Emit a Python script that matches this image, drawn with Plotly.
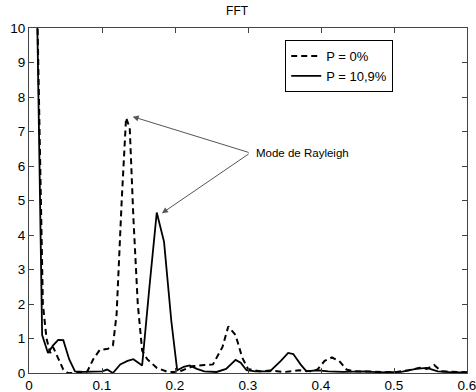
import plotly.graph_objects as go

# Series: P = 0% (dashed)
x_p0 = [0.010, 0.016, 0.019, 0.024, 0.029, 0.033, 0.040, 0.047, 0.053, 0.065, 0.075, 0.080,
        0.088, 0.097, 0.108, 0.115, 0.120, 0.127, 0.133, 0.138, 0.143, 0.149, 0.155, 0.162,
        0.175, 0.190, 0.205, 0.215, 0.225, 0.240, 0.252, 0.265, 0.273, 0.283, 0.292, 0.300,
        0.315, 0.330, 0.350, 0.370, 0.385, 0.395, 0.405, 0.415, 0.425, 0.435, 0.445, 0.470,
        0.500, 0.520, 0.535, 0.545, 0.555, 0.565, 0.580, 0.600]
y_p0 = [12.0, 5.0, 2.0, 1.0, 0.58, 0.75, 0.4, 0.1, 0.0, 0.0, 0.0, 0.05,
        0.4, 0.67, 0.7, 0.8, 1.7, 5.0, 7.4, 7.1, 4.5, 2.0, 0.65, 0.4,
        0.15, 0.03, 0.03, 0.12, 0.2, 0.23, 0.25, 0.75, 1.35, 1.1, 0.45, 0.12,
        0.05, 0.07, 0.03, 0.08, 0.05, 0.1, 0.35, 0.45, 0.35, 0.1, 0.05, 0.04,
        0.02, 0.08, 0.15, 0.12, 0.23, 0.05, 0.03, 0.02]

# Series: P = 10,9% (solid)
x_p109 = [0.010, 0.015, 0.018, 0.026, 0.033, 0.040, 0.047, 0.055, 0.063, 0.075, 0.090, 0.100,
          0.107, 0.115, 0.125, 0.135, 0.143, 0.150, 0.155, 0.165, 0.175, 0.185, 0.195, 0.203,
          0.212, 0.220, 0.230, 0.240, 0.257, 0.270, 0.283, 0.290, 0.298, 0.310, 0.330, 0.345,
          0.355, 0.362, 0.372, 0.380, 0.395, 0.410, 0.430, 0.460, 0.480, 0.510, 0.530, 0.545,
          0.560, 0.580, 0.600]
y_p109 = [12.0, 5.0, 1.1, 0.58, 0.8, 0.96, 0.95, 0.4, 0.05, 0.03, 0.03, 0.05,
          0.1, 0.0, 0.25, 0.35, 0.4, 0.3, 0.22, 2.5, 4.65, 3.8, 1.5, 0.08,
          0.18, 0.22, 0.12, 0.05, 0.03, 0.12, 0.38, 0.3, 0.08, 0.05, 0.05, 0.35,
          0.58, 0.55, 0.25, 0.05, 0.08, 0.05, 0.03, 0.05, 0.02, 0.03, 0.12, 0.15,
          0.05, 0.02, 0.02]

x_ticks = [0, 0.1, 0.2, 0.3, 0.4, 0.5, 0.6]
x_tick_labels = ["0", "0.1", "0.2", "0.3", "0.4", "0.5", "0.6"]
y_ticks = list(range(0, 11))

FONT = "Liberation Sans, Arial, sans-serif"
AX = "#444444"

fig = go.Figure()
fig.add_trace(go.Scatter(x=x_p0, y=y_p0, mode="lines", name="P = 0%",
                         line=dict(color="black", width=2, dash="6px,4px")))
fig.add_trace(go.Scatter(x=x_p109, y=y_p109, mode="lines", name="P = 10,9%",
                         line=dict(color="black", width=1.8)))

# annotation arrows towards the two peaks
tail_x, tail_y = 0.303, 6.38
i0 = y_p0.index(max(y for x, y in zip(x_p0, y_p0) if x > 0.05))
i1 = y_p109.index(max(y for x, y in zip(x_p109, y_p109) if x > 0.05))
for hx, hy in [(x_p0[i0] + 0.009, y_p0[i0] + 0.03), (x_p109[i1] + 0.007, y_p109[i1] - 0.02)]:
    fig.add_annotation(x=hx, y=hy, ax=tail_x, ay=tail_y, xref="x", yref="y",
                       axref="x", ayref="y", text="", showarrow=True,
                       arrowhead=2, arrowsize=1.2, arrowwidth=1, arrowcolor="#555555")
fig.add_annotation(x=tail_x + 0.005, y=tail_y, xref="x", yref="y", text="Mode de Rayleigh",
                   showarrow=False, xanchor="left", yanchor="middle",
                   font=dict(family=FONT, size=11.5, color="black"))

fig.update_layout(
    width=476, height=392,
    margin=dict(l=29, r=9, t=28, b=19, autoexpand=False),
    paper_bgcolor="white", plot_bgcolor="white",
    title=dict(text="FFT", x=0.475, xref="paper", xanchor="center",
               y=1, yref="container", yanchor="top", pad=dict(t=7),
               font=dict(family=FONT, size=12, color="black")),
    font=dict(family=FONT, size=13.5, color="black"),
    showlegend=True,
    legend=dict(x=0.585, y=0.965, xanchor="left", yanchor="top",
                bgcolor="white", bordercolor="black", borderwidth=1,
                font=dict(family=FONT, size=13, color="black"),
                tracegroupgap=0, itemwidth=30),
)
fig.update_xaxes(range=[0, 0.6], tickvals=x_ticks, ticktext=x_tick_labels,
                 ticks="inside", ticklen=5, tickcolor=AX, showline=True, linecolor=AX,
                 linewidth=1.2, mirror="ticks", showgrid=False, zeroline=False,
                 automargin=False, ticklabeloverflow="allow",
                 tickfont=dict(family=FONT, size=13.5, color="black"))
fig.update_yaxes(range=[0, 10], tickvals=y_ticks,
                 ticks="inside", ticklen=5, tickcolor=AX, showline=True, linecolor=AX,
                 linewidth=1.2, mirror="ticks", showgrid=False, zeroline=False,
                 automargin=False, ticklabeloverflow="allow",
                 tickfont=dict(family=FONT, size=13.5, color="black"))

fig.write_html("out.html")
